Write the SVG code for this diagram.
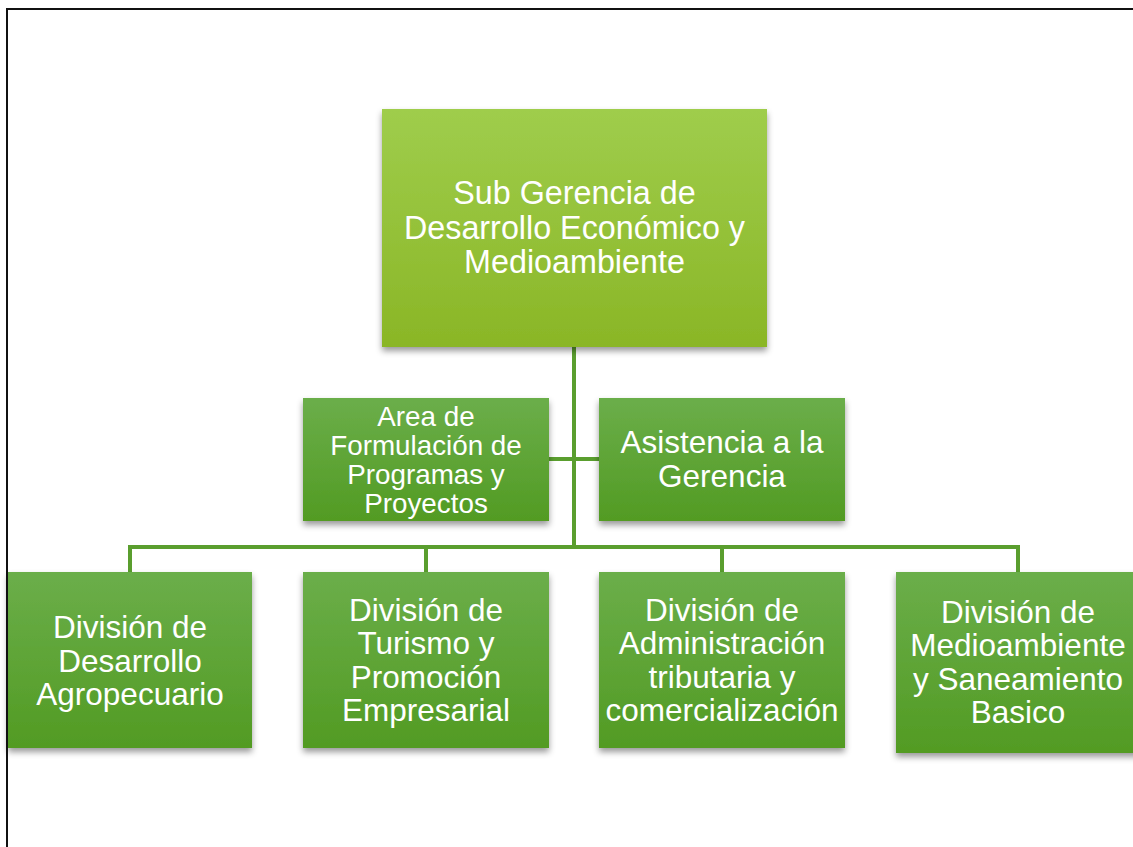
<svg xmlns="http://www.w3.org/2000/svg" width="1133" height="847" viewBox="0 0 1133 847">
  <defs>
    <linearGradient id="gTop" x1="0" y1="0" x2="0" y2="1">
      <stop offset="0" stop-color="#9fcd4c"/>
      <stop offset="1" stop-color="#8ab626"/>
    </linearGradient>
    <linearGradient id="gNode" x1="0" y1="0" x2="0" y2="1">
      <stop offset="0" stop-color="#6bae4a"/>
      <stop offset="1" stop-color="#529b23"/>
    </linearGradient>
    <filter id="shadow" x="-10%" y="-10%" width="120%" height="130%">
      <feDropShadow dx="0" dy="4" stdDeviation="3" flood-color="#000" flood-opacity="0.4"/>
    </filter>
  </defs>
  <style>
    .box { fill: url(#gNode); filter: url(#shadow); }
    .top { fill: url(#gTop); filter: url(#shadow); }
    .lbl { font-family: "Liberation Sans", Arial, sans-serif; font-size: 31.5px; fill: #ffffff; text-anchor: middle; }
    .big { font-size: 32.3px; }
    .small { font-size: 27.8px; }
    .conn { stroke: #5a9e2e; stroke-width: 4; fill: none; }
  </style>
  <rect width="1133" height="847" fill="#ffffff"/>

  <g id="connectors">
    <path class="conn" d="M574,347 V547"/>
    <path class="conn" d="M549,459 H599"/>
    <path class="conn" d="M130,572 V547 H1018 V572"/>
    <path class="conn" d="M426,547 V572"/>
    <path class="conn" d="M722,547 V572"/>
  </g>

  <g id="node-sub-gerencia">
    <rect class="top" x="382" y="109" width="385" height="238"/>
    <text class="lbl big" x="574.5" y="204">Sub Gerencia de</text>
    <text class="lbl big" x="574.5" y="238.5">Desarrollo Económico y</text>
    <text class="lbl big" x="574.5" y="273">Medioambiente</text>
  </g>

  <g id="node-area-formulacion">
    <rect class="box" x="303" y="398" width="246" height="123"/>
    <text class="lbl small" x="426" y="425.5">Area de</text>
    <text class="lbl small" x="426" y="454.5">Formulación de</text>
    <text class="lbl small" x="426" y="483.5">Programas y</text>
    <text class="lbl small" x="426" y="512.5">Proyectos</text>
  </g>

  <g id="node-asistencia">
    <rect class="box" x="599" y="398" width="246" height="123"/>
    <text class="lbl" x="722" y="453">Asistencia a la</text>
    <text class="lbl" x="722" y="487">Gerencia</text>
  </g>

  <g id="node-div-agropecuario">
    <rect class="box" x="8" y="572" width="244" height="176"/>
    <text class="lbl" x="130" y="638">División de</text>
    <text class="lbl" x="130" y="671.5">Desarrollo</text>
    <text class="lbl" x="130" y="705">Agropecuario</text>
  </g>

  <g id="node-div-turismo">
    <rect class="box" x="303" y="572" width="246" height="176"/>
    <text class="lbl" x="426" y="620.5">División de</text>
    <text class="lbl" x="426" y="654">Turismo y</text>
    <text class="lbl" x="426" y="687.5">Promoción</text>
    <text class="lbl" x="426" y="721">Empresarial</text>
  </g>

  <g id="node-div-administracion">
    <rect class="box" x="599" y="572" width="246" height="176"/>
    <text class="lbl" x="722" y="620.5">División de</text>
    <text class="lbl" x="722" y="654">Administración</text>
    <text class="lbl" x="722" y="687.5">tributaria y</text>
    <text class="lbl" x="722" y="721">comercialización</text>
  </g>

  <g id="node-div-medioambiente">
    <rect class="box" x="896" y="572" width="246" height="181"/>
    <text class="lbl" x="1018" y="622.5">División de</text>
    <text class="lbl" x="1018" y="656">Medioambiente</text>
    <text class="lbl" x="1018" y="689.5">y Saneamiento</text>
    <text class="lbl" x="1018" y="723">Basico</text>
  </g>

  <path d="M7,847 V9 H1133" fill="none" stroke="#111111" stroke-width="2"/>
</svg>
